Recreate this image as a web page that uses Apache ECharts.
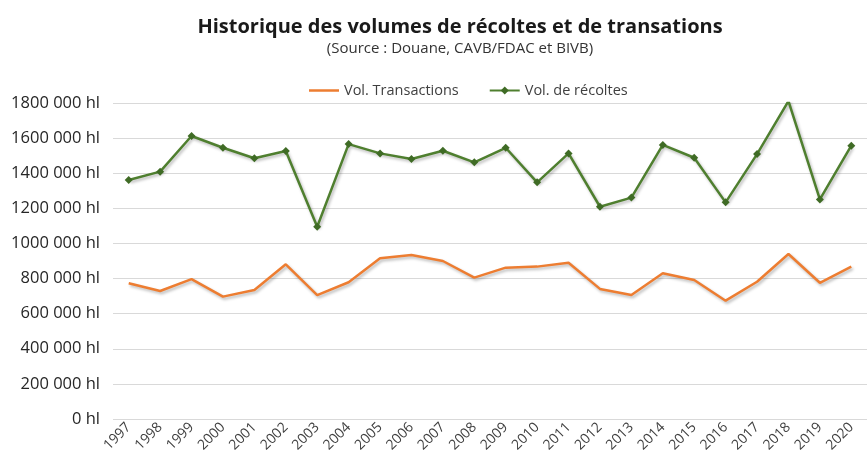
<!DOCTYPE html>
<html>
<head>
<meta charset="utf-8">
<script src="https://cdn.jsdelivr.net/npm/echarts@6/dist/echarts.min.js"></script>
<style>html,body{margin:0;padding:0;background:#fff}#c{width:867px;height:466px}</style>
</head>
<body>
<div id="c"></div>
<script>
const years = ['1997','1998','1999','2000','2001','2002','2003','2004','2005','2006','2007','2008','2009','2010','2011','2012','2013','2014','2015','2016','2017','2018','2019','2020'];
const transactions = [773000,729000,797000,697000,735000,881000,706000,779000,915000,934000,900000,805000,862000,868000,890000,741000,706000,830000,792000,674000,782000,940000,776000,868000];
const recoltes = [1361000,1409000,1612000,1545000,1485000,1527000,1095000,1566000,1513000,1481000,1528000,1462000,1545000,1348000,1513000,1209000,1261000,1561000,1488000,1234000,1509000,1811000,1251000,1557000];
const yTickLabels = ['0 hl','200 000 hl','400 000 hl','600 000 hl','800 000 hl','1000 000 hl','1200 000 hl','1400 000 hl','1600 000 hl','1800 000 hl'];

const font = '"Open Sans", Lato, sans-serif';
const chart = echarts.init(document.getElementById('c'));
const shadow = {shadowColor:'rgba(0,0,0,0.28)', shadowBlur:3, shadowOffsetX:1.5, shadowOffsetY:2};
chart.setOption({
  animation:false,
  title:[
    {text:'Historique des volumes de récoltes et de transations', left:455, top:12, textAlign:'center',
     textStyle:{fontFamily:font, fontSize:20, fontWeight:'bold', color:'#1a1a1a'}},
    {text:'(Source : Douane, CAVB/FDAC et BIVB)', left:455, top:36, textAlign:'center',
     textStyle:{fontFamily:font, fontSize:15, fontWeight:'normal', color:'#333'}}
  ],
  legend:{
    top:78, left:304, itemWidth:30, itemHeight:10, itemGap:30,
    textStyle:{fontFamily:font, fontSize:14.5, color:'#404040'},
    data:[{name:'Vol. Transactions', icon:'path://M0,0 M30,10 M0,3.75 L30,3.75 L30,6.25 L0,6.25 Z'}, {name:'Vol. de récoltes'}]
  },
  grid:{left:113, width:768, top:103, bottom:47, containLabel:false},
  xAxis:{
    type:'category', data:years, boundaryGap:true,
    axisLine:{show:false}, axisTick:{show:false},
    axisLabel:{rotate:45, interval:0, fontFamily:font, fontSize:14, color:'#404040', margin:6}
  },
  yAxis:{
    type:'value', min:0, max:1800000, interval:200000,
    axisLine:{show:false}, axisTick:{show:false},
    splitLine:{lineStyle:{color:'#d9d9d9', width:1}},
    axisLabel:{fontFamily:font, fontSize:16.5, color:'#262626', margin:13,
      formatter:(v)=>yTickLabels[Math.round(v/200000)]}
  },
  series:[
    {name:'Vol. Transactions', type:'line', data:transactions, symbol:'none',
     lineStyle:Object.assign({color:'#ED7D31', width:2.5}, shadow), itemStyle:{color:'#ED7D31'}},
    {name:'Vol. de récoltes', type:'line', data:recoltes, symbol:'diamond', symbolSize:8,
     lineStyle:Object.assign({color:'#4F7F2F', width:2.5}, shadow), itemStyle:{color:'#3F6B25'}}
  ]
});
</script>
</body>
</html>
